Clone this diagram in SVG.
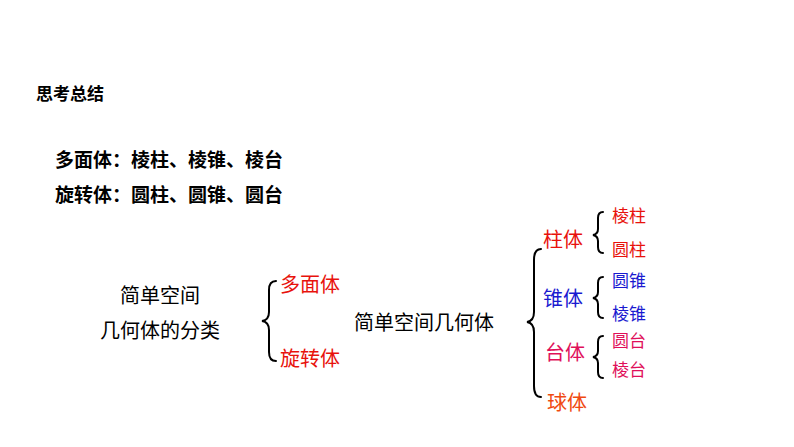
<svg xmlns="http://www.w3.org/2000/svg" width="794" height="447" viewBox="0 0 794 447">
<style>
text{font-family:"Noto Sans CJK SC","Noto Sans",sans-serif}
.b{font-weight:bold;fill:#000}
.n{font-size:20px;fill:#000}
.r{fill:#e8120c}.bl{fill:#1a1ad0}.m{fill:#e0105a}.o{fill:#f04a10}
.brace{fill:none;stroke:#000;stroke-width:2;stroke-linecap:round}
</style>
<rect width="794" height="447" fill="#fff"/>
<g id="title"><text class="b" x="36" y="100" font-size="17">思考总结</text></g>
<g id="summary">
<text class="b" x="55" y="167" font-size="19">多面体：棱柱、棱锥、棱台</text>
<text class="b" x="55" y="202" font-size="19">旋转体：圆柱、圆锥、圆台</text>
</g>
<g id="root"><text class="n" x="160" y="303" text-anchor="middle">简单空间</text><text class="n" x="160" y="338" text-anchor="middle">几何体的分类</text></g>
<g id="l1">
<text class="r" x="280" y="292" font-size="20">多面体</text>
<text class="r" x="280" y="366" font-size="20">旋转体</text>
</g>
<g id="mid"><text class="n" x="354" y="330">简单空间几何体</text></g>
<g id="l2" font-size="20">
<text class="r" x="543" y="247" font-size="20">柱体</text>
<text class="bl" x="543" y="306" font-size="20">锥体</text>
<text class="m" x="545" y="360" font-size="20">台体</text>
<text class="o" x="547" y="410" font-size="20">球体</text>
</g>
<g id="l3">
<text class="r" x="612" y="222" font-size="17">棱柱</text>
<text class="r" x="612" y="256" font-size="17">圆柱</text>
<text class="bl" x="612" y="287" font-size="17">圆锥</text>
<text class="bl" x="612" y="320" font-size="17">棱锥</text>
<text class="m" x="612" y="347" font-size="17">圆台</text>
<text class="m" x="612" y="376" font-size="17">棱台</text>
</g>
<g id="connectors">
<path class="brace" d="M276,281 Q269,281 269,290 L269,312 Q269,320 262,321 Q269,322 269,330 L269,352 Q269,361 276,361"/>
<path class="brace" d="M541,249 Q534,249 534,260 L534,312 Q534,321 527,322 Q534,323 534,332 L534,386 Q534,397 541,397"/>
<path class="brace" d="M603,212 Q598,212 598,218 L598,229 Q598,234 593,235 Q598,236 598,241 L598,247 Q598,253 603,253"/>
<path class="brace" d="M603,277 Q598,277 598,283 L598,292 Q598,297 593,298 Q598,299 598,304 L598,312 Q598,318 603,318"/>
<path class="brace" d="M603,336 Q598,336 598,342 L598,351 Q598,356 593,357 Q598,358 598,363 L598,372 Q598,378 603,378"/>
</g>
</svg>
